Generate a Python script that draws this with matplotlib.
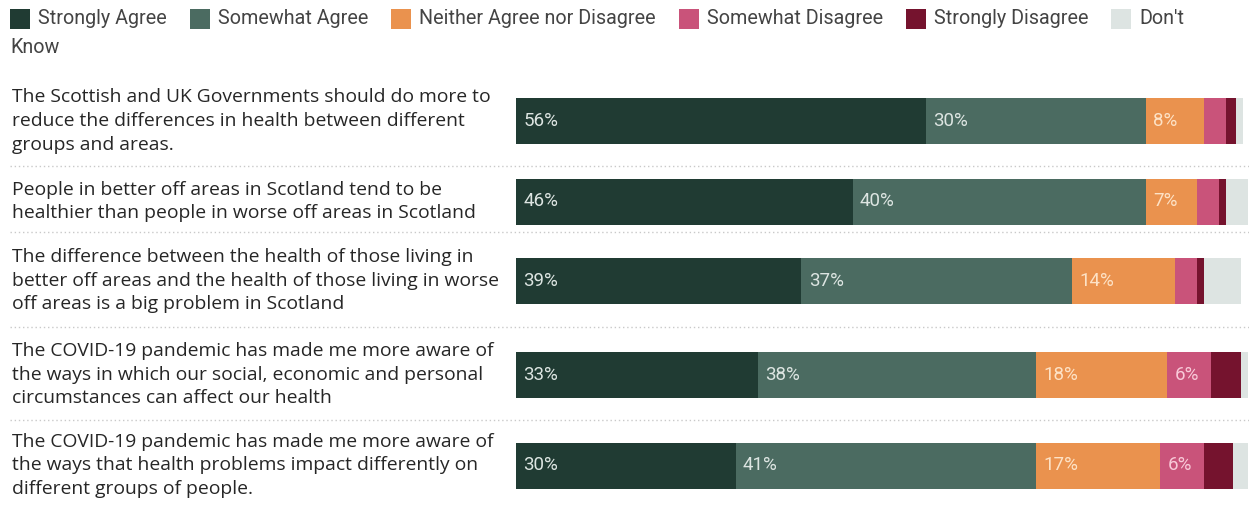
import matplotlib
matplotlib.use("Agg")
import matplotlib.pyplot as plt
from matplotlib.patches import Rectangle
from matplotlib.lines import Line2D

plt.rcParams['font.family'] = ['Roboto', 'DejaVu Sans']

categories = [
    "The Scottish and UK Governments should do more to\nreduce the differences in health between different\ngroups and areas.",
    "People in better off areas in Scotland tend to be\nhealthier than people in worse off areas in Scotland",
    "The difference between the health of those living in\nbetter off areas and the health of those living in worse\noff areas is a big problem in Scotland",
    "The COVID-19 pandemic has made me more aware of\nthe ways in which our social, economic and personal\ncircumstances can affect our health",
    "The COVID-19 pandemic has made me more aware of\nthe ways that health problems impact differently on\ndifferent groups of people.",
]
responses = ["Strongly Agree", "Somewhat Agree", "Neither Agree nor Disagree",
             "Somewhat Disagree", "Strongly Disagree", "Don't Know"]

strongly_agree = [56, 46, 39, 33, 30]
somewhat_agree = [30, 40, 37, 38, 41]
neither = [8, 7, 14, 18, 17]
somewhat_disagree = [3, 3, 3, 6, 6]
strongly_disagree = [1.3, 1, 1, 4, 4]
dont_know = [1, 3, 5, 1, 2]

series = [strongly_agree, somewhat_agree, neither,
          somewhat_disagree, strongly_disagree, dont_know]
colors = ["#203b33", "#4b6b61", "#ea924e", "#c9537a", "#75132e", "#dde4e2"]
label_colors = ["#dde5e2", "#dde5e2", "#fde2c6", "#f8c9d8", "#f0d0d8", "#333333"]

W, H = 1249, 508
fig = plt.figure(figsize=(W / 100, H / 100), dpi=100)

# bar panel, y measured in pixels from the top
x0, x1 = 516, 1248
ax = fig.add_axes([x0 / W, 0, (x1 - x0) / W, 1])
ax.set_xlim(0, 100)
ax.set_ylim(H, 0)
ax.axis("off")

row_centers = [121, 201.5, 280.5, 374.5, 465.5]
bar_h = 46

for i, yc in enumerate(row_centers):
    left = 0
    for s, col, lc in zip(series, colors, label_colors):
        v = s[i]
        ax.barh(yc, v, left=left, height=bar_h, color=col, edgecolor="none")
        if v > 5:
            ax.text(left + 1.0, yc, f"{v:.0f}%", ha="left", va="center",
                    color=lc, fontsize=13.5)
        left += v

# question labels
for cat, yc in zip(categories, row_centers):
    fig.text(12 / W, 1 - yc / H, cat, ha="left", va="center", fontsize=13.9,
             color="#262626", linespacing=1.42, family=['Open Sans', 'DejaVu Sans'])

# dotted separators between rows
for ys in [166, 232, 327, 420]:
    fig.add_artist(Line2D([10 / W, 1.0], [1 - ys / H, 1 - ys / H],
                          transform=fig.transFigure, color="#c9c9c9",
                          linestyle=(0, (1, 2)), linewidth=1))

# legend, laid out left to right, with the last label wrapping
fig.canvas.draw()
renderer = fig.canvas.get_renderer()
x = 10
y_top = 19
sq = 20
for k, (name, col) in enumerate(zip(responses, colors)):
    fig.add_artist(Rectangle((x / W, 1 - (y_top + sq / 2) / H), sq / W, sq / H,
                             transform=fig.transFigure, facecolor=col,
                             edgecolor="none"))
    x += sq + 8
    txt = "Don't" if name == "Don't Know" else name
    t = fig.text(x / W, 1 - y_top / H, txt, ha="left", va="center",
                 fontsize=14.2, color="#444444")
    w = t.get_window_extent(renderer).width
    x += w + 23
fig.text(10 / W, 1 - 47 / H, "Know", ha="left", va="center",
         fontsize=14.2, color="#444444")

fig.savefig("out.png", dpi=100, facecolor="white")
